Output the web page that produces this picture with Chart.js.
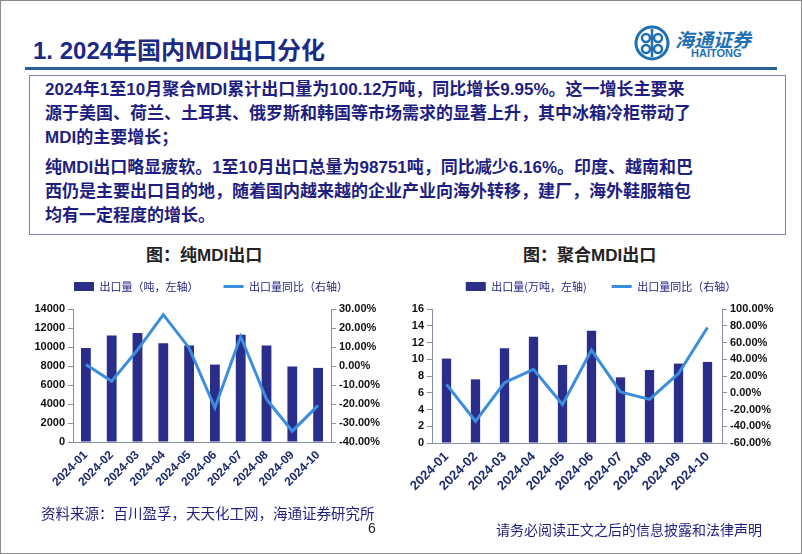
<!DOCTYPE html>
<html>
<head>
<meta charset="utf-8">
<script src="https://cdn.jsdelivr.net/npm/chart.js@4/dist/chart.umd.min.js"></script>
<style>
  body { margin: 0; background: #fff; }
  #page { position: relative; width: 800px; height: 552px; border: 1px solid #8a8a8a; overflow: hidden;
    font-family: "Liberation Sans", "Noto Sans CJK SC", sans-serif; }
  .abs { position: absolute; white-space: nowrap; }
  #titulo { left: 32px; top: 30px; font-size: 24px; font-weight: bold; color: #1a2a86; }
  #linha { left: 24px; top: 66px; width: 752px; height: 3px; background: #2c5f9e; }
  #caixa { left: 28px; top: 74px; width: 755px; height: 158px; border: 1px solid #7a7fb0; }
  #texto { left: 44px; top: 77px; font-size: 17px; font-weight: bold; color: #1e1e82; line-height: 24px; }
  .grafTit { top: 240px; font-size: 17px; font-weight: bold; color: #222; }
  #fonte { left: 40px; top: 501px; font-size: 14.5px; color: #1e1e82; font-family: "Noto Sans CJK SC", serif; }
  #pagina { left: 367px; top: 519px; font-size: 14px; color: #222; }
  #aviso { left: 495px; top: 518px; font-size: 14px; color: #1e1e82; font-family: "Noto Sans CJK SC", serif; }
  #logoTxt { left: 674px; top: 24px; font-size: 19px; font-weight: bold; color: #1f6fb3; font-style: italic; }
  #logoEn { left: 690px; top: 46px; font-size: 11px; font-weight: bold; color: #1f6fb3; }
</style>
</head>
<body>
<div id="page">
  <div class="abs" id="titulo">1. 2024年国内MDI出口分化</div>
  <svg class="abs" style="left:632px;top:23px" width="38" height="38" viewBox="0 0 38 38">
    <circle cx="19" cy="19" r="16" fill="none" stroke="#1f6fb3" stroke-width="3"/>
    <circle cx="13" cy="14" r="4" fill="none" stroke="#1f6fb3" stroke-width="2.5"/>
    <circle cx="25" cy="14" r="4" fill="none" stroke="#1f6fb3" stroke-width="2.5"/>
    <circle cx="13" cy="25" r="4" fill="none" stroke="#1f6fb3" stroke-width="2.5"/>
    <circle cx="25" cy="25" r="4" fill="none" stroke="#1f6fb3" stroke-width="2.5"/>
    <line x1="19" y1="5" x2="19" y2="33" stroke="#1f6fb3" stroke-width="2.5"/>
  </svg>
  <div class="abs" id="logoTxt">海通证券</div>
  <div class="abs" id="logoEn">HAITONG</div>
  <div class="abs" id="linha"></div>
  <div class="abs" id="caixa"></div>
  <div class="abs" id="texto">
    2024年1至10月聚合MDI累计出口量为100.12万吨，同比增长9.95%。这一增长主要来<br>
    源于美国、荷兰、土耳其、俄罗斯和韩国等市场需求的显著上升，其中冰箱冷柜带动了<br>
    MDI的主要增长；<br>
    <div style="height:6px"></div>
    纯MDI出口略显疲软。1至10月出口总量为98751吨，同比减少6.16%。印度、越南和巴<br>
    西仍是主要出口目的地，随着国内越来越的企业产业向海外转移，建厂，海外鞋服箱包<br>
    均有一定程度的增长。
  </div>
  <div class="abs grafTit" style="left:145px">图：纯MDI出口</div>
  <div class="abs grafTit" style="left:522px">图：聚合MDI出口</div>
  <div class="abs" style="left:20px;top:255px;width:380px;height:250px"><canvas id="graficoPuro"></canvas></div>
  <div class="abs" style="left:400px;top:255px;width:400px;height:250px"><canvas id="graficoPolimerico"></canvas></div>
  <div class="abs" id="fonte">资料来源：百川盈孚，天天化工网，海通证券研究所</div>
  <div class="abs" id="pagina">6</div>
  <div class="abs" id="aviso">请务必阅读正文之后的信息披露和法律声明</div>
</div>

<script>
const meses = ["2024-01", "2024-02", "2024-03", "2024-04", "2024-05", "2024-06", "2024-07", "2024-08", "2024-09", "2024-10"];

// 纯MDI: 吨 e 同比 (%)
const puroVolume = [9900, 11200, 11480, 10400, 10150, 8150, 11300, 10150, 7950, 7800];
const puroYoY = [0.8, -8, 8.5, 27, 9.5, -22, 15.5, -17.5, -34.3, -20.7];

// 聚合MDI: 万吨 e 同比 (%)
const polVolume = [10.08, 7.6, 11.32, 12.68, 9.32, 13.4, 7.84, 8.72, 9.48, 9.68];
const polYoY = [10, -34, 12, 28, -14, 51, 1, -8, 23, 78];

const corBarra = "#2b2d8a";
const corLinha = "#3b8ddd";
const corEixo = "#8a8fa8";

// altura fixa da legenda, para a área do gráfico começar no mesmo ponto
const margemLegenda = {
  id: "margemLegenda",
  beforeInit(chart, args, opts) {
    const fitOriginal = chart.legend.fit;
    chart.legend.fit = function () {
      fitOriginal.bind(chart.legend)();
      this.height = opts.altura;
    };
  }
};

function criarGrafico(id, volume, yoy, rotuloBarra, esq, dir, larguraBarra, fonteX, alturaX) {
  new Chart(document.getElementById(id).getContext("2d"), {
    data: {
      labels: meses,
      datasets: [
        {
          type: "line",
          label: "出口量同比（右轴）",
          data: yoy,
          borderColor: corLinha,
          backgroundColor: corLinha,
          borderWidth: 3,
          pointRadius: 0,
          tension: 0,
          yAxisID: "y1",
          order: 0
        },
        {
          type: "bar",
          label: rotuloBarra,
          data: volume,
          backgroundColor: corBarra,
          barPercentage: larguraBarra,
          categoryPercentage: 1,
          yAxisID: "y",
          order: 1
        }
      ]
    },
    plugins: [margemLegenda],
    options: {
      responsive: true,
      maintainAspectRatio: false,
      animation: false,
      layout: { padding: 0 },
      plugins: {
        margemLegenda: { altura: 53 },
        legend: {
          reverse: true,
          labels: {
            usePointStyle: true,
            pointStyleWidth: 20,
            boxHeight: 9,
            padding: 25,
            color: "#1e1e82",
            font: { size: 11, family: "'Noto Sans CJK SC', serif" },
            generateLabels: (chart) => chart.data.datasets.map((ds, i) => ({
              text: ds.label,
              fillStyle: ds.type === "bar" ? corBarra : corLinha,
              strokeStyle: ds.type === "bar" ? corBarra : corLinha,
              lineWidth: ds.type === "bar" ? 0 : 3,
              pointStyle: ds.type === "bar" ? "rect" : "line",
              fontColor: "#1e1e82",
              datasetIndex: i,
              hidden: false
            }))
          }
        },
        tooltip: { enabled: false }
      },
      scales: {
        x: {
          grid: { display: false, drawTicks: false },
          border: { color: corEixo },
          ticks: {
            maxRotation: 45, minRotation: 45, color: "#1e2a6e", padding: 6,
            font: { size: fonteX, weight: "bold", family: "'Liberation Sans', Arial" }
          },
          afterFit: (eixo) => { eixo.height = alturaX; }
        },
        y: {
          position: "left",
          min: esq.min, max: esq.max,
          border: { color: corEixo },
          grid: { drawOnChartArea: false, tickLength: 5, color: corEixo },
          ticks: {
            stepSize: esq.passo, color: "#111",
            font: { size: 11, weight: "bold", family: "'Liberation Sans', Arial" },
            callback: (v) => String(v)
          },
          afterFit: (eixo) => { eixo.width = esq.largura; }
        },
        y1: {
          position: "right",
          min: dir.min, max: dir.max,
          border: { color: corEixo },
          grid: { drawOnChartArea: false, tickLength: 5, color: corEixo },
          ticks: {
            stepSize: dir.passo, color: "#111",
            font: { size: 11, weight: "bold", family: "'Liberation Sans', Arial" },
            callback: (v) => v.toFixed(2) + "%"
          },
          afterFit: (eixo) => { eixo.width = dir.largura; }
        }
      }
    }
  });
}

criarGrafico("graficoPuro", puroVolume, puroYoY, "出口量（吨，左轴）",
  { min: 0, max: 14000, passo: 2000, largura: 52 },
  { min: -40, max: 30, passo: 10, largura: 70 }, 0.38, 12, 64);

criarGrafico("graficoPolimerico", polVolume, polYoY, "出口量(万吨，左轴)",
  { min: 0, max: 16, passo: 2, largura: 31 },
  { min: -60, max: 100, passo: 20, largura: 79 }, 0.32, 13, 63);
</script>
</body>
</html>
